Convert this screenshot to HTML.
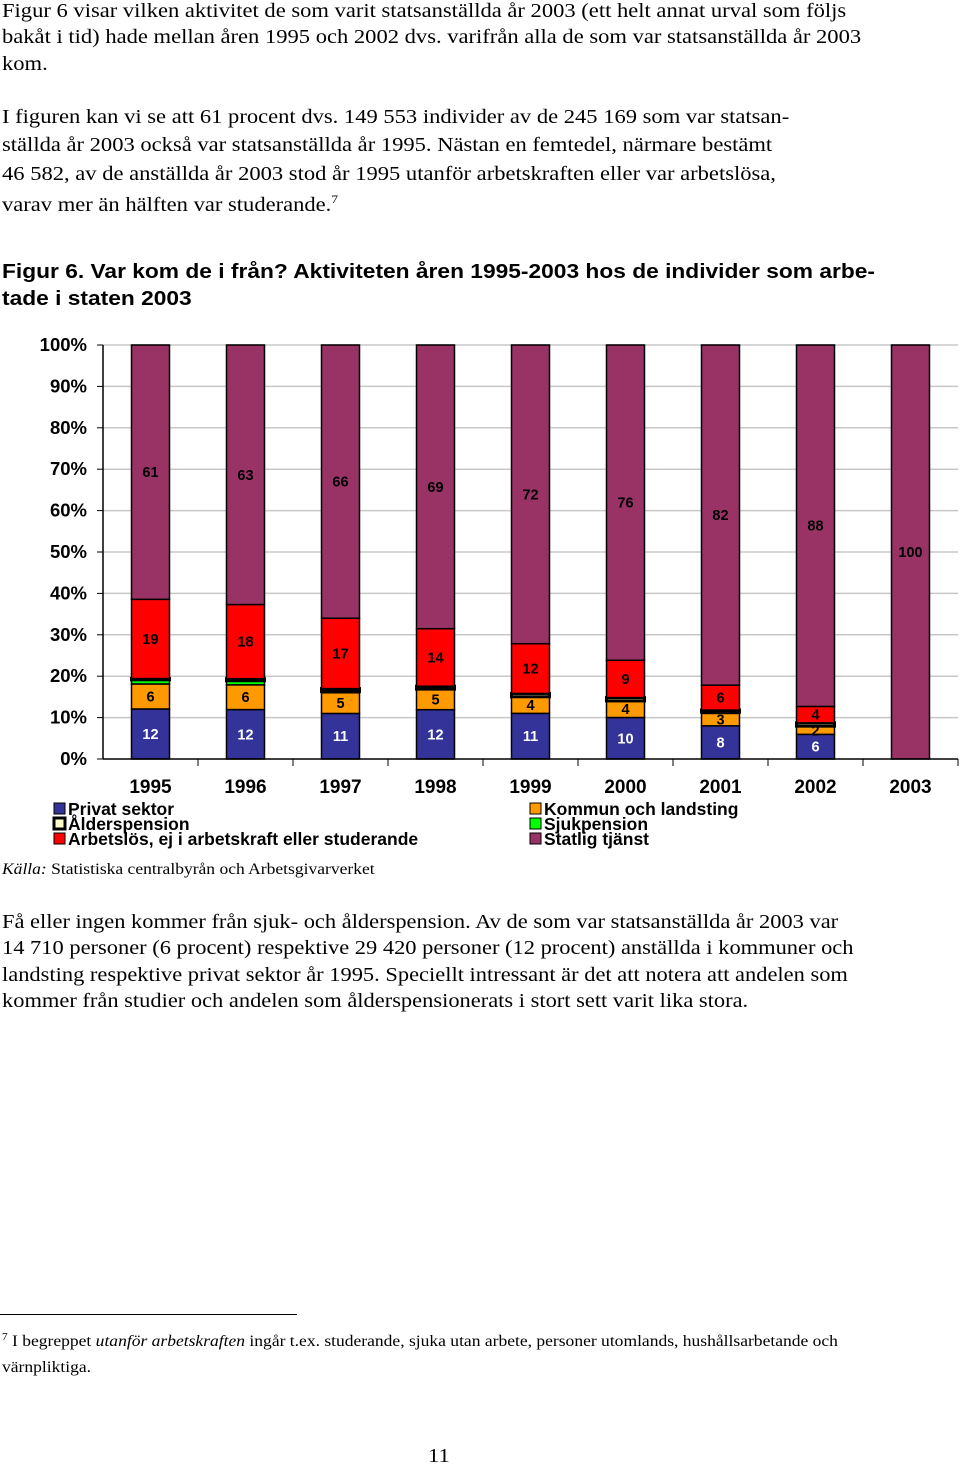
<!DOCTYPE html>
<html><head><meta charset="utf-8">
<style>
body{margin:0;width:960px;height:1466px;background:#fff;position:relative;overflow:hidden;font-family:"Liberation Serif",serif;color:#000}
.t{position:absolute;left:2px;font-size:20.5px;white-space:nowrap;line-height:1;transform-origin:0 0;transform:scaleX(1.1)}
.h{position:absolute;left:2px;font-family:"Liberation Sans",sans-serif;font-weight:bold;font-size:20.5px;white-space:nowrap;line-height:1;transform-origin:0 0;transform:scaleX(1.11)}
.s{position:absolute;font-size:15.5px;white-space:nowrap;line-height:1;transform-origin:0 0;transform:scaleX(1.13)}
svg text{font-family:"Liberation Sans",sans-serif;font-weight:bold}
</style></head><body>
<div>
<div class="t" style="top:1px">Figur 6 visar vilken aktivitet de som varit statsanställda år 2003 (ett helt annat urval som följs</div>
<div class="t" style="top:27px">bakåt i tid) hade mellan åren 1995 och 2002 dvs. varifrån alla de som var statsanställda år 2003</div>
<div class="t" style="top:54px">kom.</div>
</div>
<div>
<div class="t" style="top:107px">I figuren kan vi se att 61 procent dvs. 149 553 individer av de 245 169 som var statsan-</div>
<div class="t" style="top:135px">ställda år 2003 också var statsanställda år 1995. Nästan en femtedel, närmare bestämt</div>
<div class="t" style="top:164px">46 582, av de anställda år 2003 stod år 1995 utanför arbetskraften eller var arbetslösa,</div>
<div class="t" style="top:193px">varav mer än hälften var studerande.<sup style="font-size:12px">7</sup></div>
</div>
<div>
<div class="h" style="top:262px">Figur 6. Var kom de i från? Aktiviteten åren 1995-2003 hos de individer som arbe-</div>
<div class="h" style="top:289px">tade i staten 2003</div>
</div>
<svg id="chart" style="position:absolute;left:0;top:330px" width="960" height="530"></svg>
<div class="s" style="left:2px;top:862px"><i>Källa:</i> Statistiska centralbyrån och Arbetsgivarverket</div>
<div>
<div class="t" style="top:912px;transform:scaleX(1.095)">Få eller ingen kommer från sjuk- och ålderspension. Av de som var statsanställda år 2003 var</div>
<div class="t" style="top:938px;transform:scaleX(1.095)">14 710 personer (6 procent) respektive 29 420 personer (12 procent) anställda i kommuner och</div>
<div class="t" style="top:965px;transform:scaleX(1.095)">landsting respektive privat sektor år 1995. Speciellt intressant är det att notera att andelen som</div>
<div class="t" style="top:991px;transform:scaleX(1.095)">kommer från studier och andelen som ålderspensionerats i stort sett varit lika stora.</div>
</div>
<div style="position:absolute;left:0;top:1314px;width:297px;height:1px;background:#000"></div>
<div>
<div class="s" style="left:2px;top:1333px"><sup style="font-size:10px">7</sup> I begreppet <i>utanför arbetskraften</i> ingår t.ex. studerande, sjuka utan arbete, personer utomlands, hushållsarbetande och</div>
<div class="s" style="left:2px;top:1360px">värnpliktiga.</div>
</div>
<div class="t" style="left:428px;top:1446px">11</div>
<script>
const years=["1995","1996","1997","1998","1999","2000","2001","2002","2003"];
const privat=[12,12,11,12,11,10,8,6,0];
const kommun=[6,6,5,5,4,4,3,2,0];
const sjuk=[1,1,0.3,0,0,0,0.3,0,0];
const alder=[0.3,0.5,0.7,0.7,0.8,0.8,0.5,0.8,0];
const arbetslos=[19,18,17,14,12,9,6,4,0];
const statlig=[61,63,66,69,72,76,82,88,100];
const yTicks=["0%","10%","20%","30%","40%","50%","60%","70%","80%","90%","100%"];
const series=[
 {name:"privat",vals:privat,color:"#333399",label:true,lc:"#fff"},
 {name:"kommun",vals:kommun,color:"#ff9900",label:true,lc:"#000"},
 {name:"sjuk",vals:sjuk,color:"#00ff00",label:false},
 {name:"alder",vals:alder,color:"#ffffcc",label:false,stroke:3},
 {name:"arbetslos",vals:arbetslos,color:"#ff0000",label:true,lc:"#000"},
 {name:"statlig",vals:statlig,color:"#993366",label:true,lc:"#000"}
];
const svg=document.getElementById('chart');
const NS="http://www.w3.org/2000/svg";
const x0=103,x1=958,y0=429,ytop=15;
const y=v=>y0-(v/100)*(y0-ytop);
const bw=(x1-x0)/years.length;
const cx=i=>x0+bw*(i+0.5);
function el(t,a){const e=document.createElementNS(NS,t);for(const k in a)e.setAttribute(k,a[k]);svg.appendChild(e);return e;}
yTicks.forEach((t,i)=>{
 const v=i*10;
 if(i>0){const g=el('line',{x1:x0,x2:x1,y1:y(v),y2:y(v),stroke:'#c8c8c8','stroke-width':1.5});
 
 }
 const tk=el('line',{x1:x0-6,x2:x0,y1:y(v),y2:y(v),stroke:'#000'});
 
 
 const tx=el('text',{x:87,y:y(v)+6,'text-anchor':'end','font-size':18.5});
 tx.textContent=t;
 
 
});
years.forEach((yr,i)=>{
 let acc=0;
 let total=0;series.forEach(s=>{total+=s.vals[i];});
 const k=100/total;
 series.forEach(s=>{
  const v=s.vals[i];
  if(v<=0)return;
  const a=acc*k,b=(acc+v)*k;
  const r=el('rect',{x:cx(i)-19,y:y(b),width:38,height:y(a)-y(b),fill:s.color,stroke:'#000','stroke-width':s.stroke||1.5});
  
  
  if(s.label){
   const t=el('text',{x:cx(i),y:(y(a)+y(b))/2+5,'text-anchor':'middle','font-size':14.5,fill:s.lc});
   t.textContent=v;
   
   
  }
  acc+=v;
 });
 const tx=el('text',{x:cx(i),y:y0+34,'text-anchor':'middle','font-size':19});
 tx.textContent=yr;
 
 
 const tk=el('line',{x1:x0+bw*(i+1),x2:x0+bw*(i+1),y1:y0,y2:y0+7,stroke:'#000'});
 
 
});
const ax=el('line',{x1:x0,x2:x0,y1:ytop,y2:y0,stroke:'#000','stroke-width':1.5});


const axx=el('line',{x1:x0,x2:x1,y1:y0,y2:y0,stroke:'#000','stroke-width':1.5});


const legend=[
 ["Privat sektor","#333399",54,485,1],["Ålderspension","#ffffcc",54,500,3],["Arbetslös, ej i arbetskraft eller studerande","#ff0000",54,515,1],
 ["Kommun och landsting","#ff9900",530,485,1],["Sjukpension","#00ff00",530,500,1],["Statlig tjänst","#993366",530,515,1]
];
legend.forEach(l=>{
 const r=el('rect',{x:l[2],y:l[3]-12,width:11,height:11,fill:l[1],stroke:'#000','stroke-width':l[4]});
 
 
 const t=el('text',{x:l[2]+14,y:l[3],'font-size':17.5});
 t.textContent=l[0];
 
 
});
</script>
</body></html>
